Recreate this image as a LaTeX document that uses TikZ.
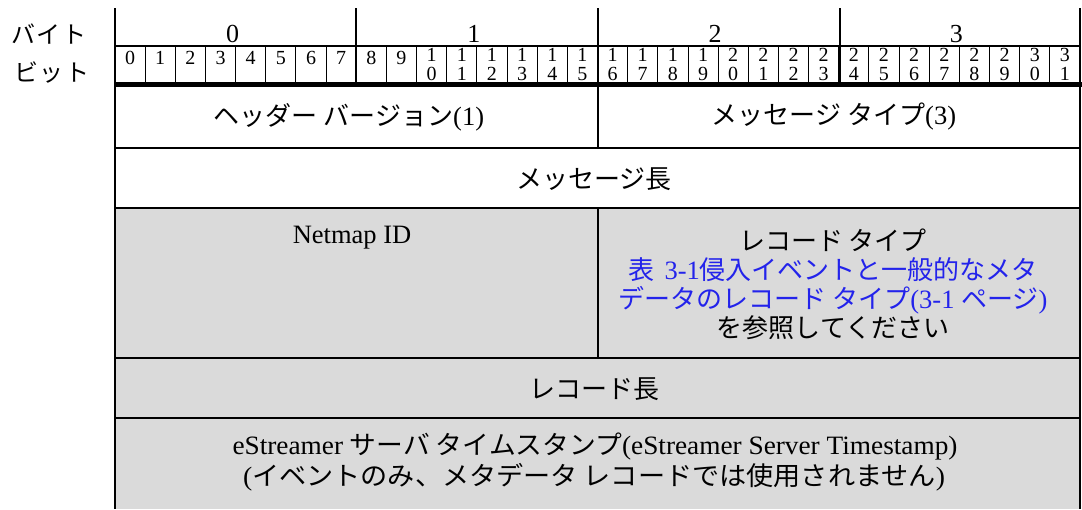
\documentclass[tikz,border=0pt]{standalone}
\usepackage{fontspec}
\usepackage{graphicx}
\setmainfont{Liberation Serif}
\newfontfamily\jp{Noto Sans CJK JP}
\definecolor{cellgray}{RGB}{218,218,218}
\definecolor{linkblue}{RGB}{35,35,235}
\newcommand{\J}[1]{{\jp\fontsize{26}{29}\selectfont #1}}
\begin{document}
\begin{tikzpicture}[x=1pt,y=-1pt,
  frame/.style={line width=2pt,black},
  thin/.style={line width=0.9pt,black},
  txt/.style={inner sep=0pt,font=\fontsize{26.5}{29}\selectfont,align=center},
  bitnum/.style={inner sep=0pt,anchor=base,font=\fontsize{20}{20}\selectfont},
  bytenum/.style={inner sep=0pt,anchor=base,font=\fontsize{26}{26}\selectfont},
  side/.style={inner sep=0pt,font=\fontsize{24}{24}\selectfont}]
\useasboundingbox (0,0) rectangle (1082,509);
% gray area
\fill[cellgray] (115,208) rectangle (1080,509);
% bit dividers
\foreach \i in {1,...,31}{
  \draw[thin] ({115+\i*30.156},46) -- ({115+\i*30.156},84);
}
% bit numbers
\foreach \i in {0,...,9}{
  \node[bitnum] (b\i) at ({115+(\i+0.5)*30.156},64.5) {\i};
}
\foreach \i/\a/\b in {10/1/0,11/1/1,12/1/2,13/1/3,14/1/4,15/1/5,16/1/6,17/1/7,18/1/8,19/1/9,20/2/0,21/2/1,22/2/2,23/2/3,24/2/4,25/2/5,26/2/6,27/2/7,28/2/8,29/2/9,30/3/0,31/3/1}{
  \node[bitnum] (bt\i) at ({115+(\i+0.5)*30.156},61) {\a};
  \node[bitnum] (bb\i) at ({115+(\i+0.5)*30.156},80.5) {\b};
}
% byte numbers
\foreach \i in {0,...,3}{
  \node[bytenum] (B\i) at ({115+(\i+0.5)*241.25-3},42) {\i};
}
% frame lines
\draw[frame] (115,46) -- (1080,46);
\draw[line width=5pt] (115,84.5) -- (1082,84.5);
\draw[frame] (115,8) -- (115,509);
\draw[frame] (1080,8) -- (1080,509);
\draw[frame] (356.25,8) -- (356.25,86);
\draw[frame] (839.75,8) -- (839.75,86);
\draw[frame] (597.5,8) -- (597.5,148);
\draw[frame] (115,148) -- (1080,148);
\draw[frame] (115,208) -- (1080,208);
\draw[frame] (597.5,208) -- (597.5,358);
\draw[line width=1.6pt] (115,358) -- (1080,358);
\draw[frame] (115,418) -- (1080,418);
% side labels
\node[side] (lbyte) at (49,34) {{\jp バ\hspace{2pt}イ\hspace{2pt}ト}};
\node[side] (lbit) at (52,73) {{\jp ビ\hspace{2pt}ッ\hspace{2pt}ト}};
% cells
\node[txt] (hv) at (349,117) {\J{ヘッダー バージョン}(1)};
\node[txt] (mt) at (834,117) {\J{メッセージ タイプ}(3)};
\node[txt] (ml) at (594,179) {\J{メッセージ長}};
\node[txt] (nid) at (352,238) {Netmap ID};
\node[txt] (rt) at (833,284) {\J{レコード タイプ}\\
  \textcolor{linkblue}{\J{表}\hspace{4pt} 3-1\J{侵入イベントと一般的なメタ}}\\
  \textcolor{linkblue}{\J{データのレコード タイプ}(3-1 \J{ページ})}\\
  \J{を参照してください}};
\node[txt] (rl) at (594,389) {\J{レコード長}};
\node[txt] (ts1) at (595,447) {\resizebox{725pt}{\height}{eStreamer \J{サーバ タイムスタンプ}(eStreamer Server Timestamp)}};
\node[txt] (ts2) at (594,477) {\resizebox{702pt}{\height}{(\J{イベントのみ、メタデータ レコードでは使用されません})}};
\end{tikzpicture}
\end{document}
